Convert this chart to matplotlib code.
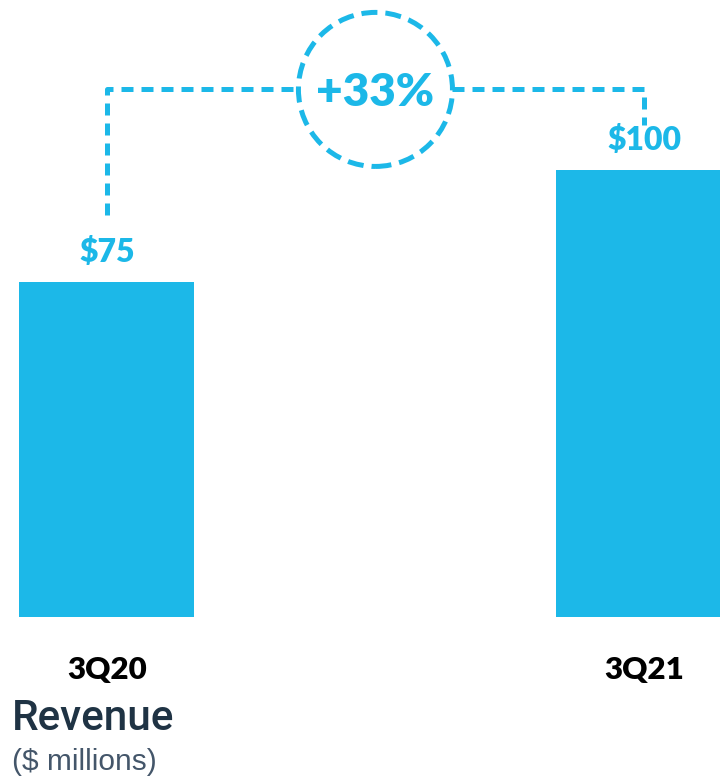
import matplotlib
matplotlib.use("Agg")
import matplotlib.pyplot as plt
from matplotlib.patches import Ellipse

# data
quarters = ["3Q20", "3Q21"]
revenue = [75, 100]
value_labels = ["$75", "$100"]
growth_label = "+33%"
connector_start = [90, 110]   # where the dashed bracket leaves each bar label
connector_top = 118

blue = "#1CB8E8"
navy = "#1F3344"

fig = plt.figure(figsize=(7.2, 7.81), dpi=100)
ax = fig.add_axes([0, 164 / 781, 1, 617 / 781])

x = [0, 1]
ax.bar(x, revenue, width=0.326, color=blue, edgecolor="none")
ax.set_xlim(-0.199, 1.1415)
ax.set_ylim(0, 138)

for xi, v, lab in zip(x, revenue, value_labels):
    ax.text(xi, v + 6.7, lab, ha="center", va="center", color=blue,
            fontsize=23, fontweight="heavy", family="Lato")

# dashed bracket with the growth circle in the middle
circ_x = 0.5
rx = 77 / 537       # circle radius in x data units
ry = 77 / 4.47      # circle radius in y data units
dash = dict(color=blue, lw=3.6, linestyle=(0, (2.4, 1.6)), solid_capstyle="butt",
            dash_capstyle="butt")
ax.plot([x[0], x[0], circ_x - rx], [connector_start[0], connector_top, connector_top], **dash)
ax.plot([circ_x + rx, x[1], x[1]], [connector_top, connector_top, connector_start[1]], **dash)
ax.add_patch(Ellipse((circ_x, connector_top), 2 * rx, 2 * ry, fill=False,
                     edgecolor=blue, lw=3.6, linestyle=(0, (3.2, 1.6))))
ax.text(circ_x, connector_top - 0.6, growth_label, ha="center", va="center", color=blue,
        fontsize=33, fontweight="heavy", family="Lato")

ax.set_xticks(x)
ax.set_xticklabels(quarters, fontsize=22.5, fontweight="heavy", family="Lato")
ax.tick_params(axis="x", length=0, pad=28)
ax.set_yticks([])
for s in ax.spines.values():
    s.set_visible(False)
ax.patch.set_alpha(0)

fig.text(12 / 720, 1 - 718 / 781, "Revenue", ha="left", va="center", color=navy,
         fontsize=30.5, fontweight="medium", family="Roboto")
fig.text(12 / 720, 1 - 762 / 781, "($ millions)", ha="left", va="center", color="#44566A",
         fontsize=21.5, family="Liberation Sans")

fig.savefig("out.png", dpi=100)
